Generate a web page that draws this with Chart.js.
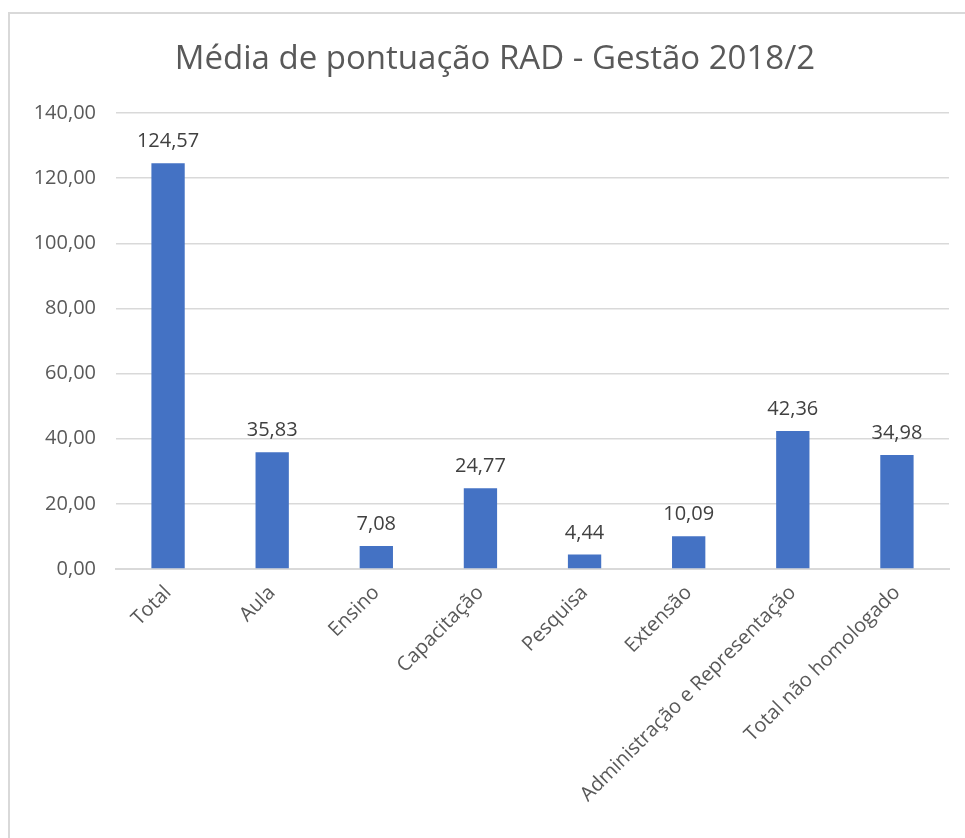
<!DOCTYPE html>
<html>
<head>
<meta charset="utf-8">
<script src="https://cdn.jsdelivr.net/npm/chart.js@4"></script>
<style>
  html, body { margin: 0; padding: 0; background: #fff; overflow: hidden; }
  #frame { position: absolute; left: 8px; top: 12px; width: 1000px; height: 900px; border: 2px solid #d9d9d9; box-sizing: border-box; }
  #wrap { position: absolute; left: 0; top: 0; width: 965px; height: 838px; }
</style>
</head>
<body>
<div id="frame"></div>
<div id="wrap"><canvas id="rad-chart"></canvas></div>
<script>
var categorias = ['Total', 'Aula', 'Ensino', 'Capacitação', 'Pesquisa', 'Extensão', 'Administração e Representação', 'Total não homologado'];
var medias = [124.57, 35.83, 7.08, 24.77, 4.44, 10.09, 42.36, 34.98];
var yMax = 140;
var yStep = 20;
var titulo = 'Média de pontuação RAD - Gestão 2018/2';

function fmt(v) {
	return Number(v).toFixed(2).replace('.', ',');
}

// titulo + rotulos em cima das barras
var rotulos = {
	id: 'rotulos',
	afterDatasetsDraw: function(chart) {
		var ctx = chart.ctx;
		var meta = chart.getDatasetMeta(0);
		ctx.save();
		ctx.font = '20px "Open Sans"';
		ctx.fillStyle = '#404040';
		ctx.textAlign = 'center';
		ctx.textBaseline = 'alphabetic';
		meta.data.forEach(function(bar, i) {
			ctx.fillText(fmt(medias[i]), bar.x, bar.y - 16);
		});
		ctx.font = '33px "Open Sans"';
		ctx.fillStyle = '#595959';
		ctx.textBaseline = 'middle';
		ctx.fillText(titulo, 495, 60);
		ctx.restore();
	}
};

var ctx = document.getElementById("rad-chart").getContext('2d');
var myChart = new Chart(ctx, {
	type: 'bar',
	data: {
		labels: categorias,
		datasets: [{
			label: 'Média',
			data: medias,
			backgroundColor: '#4472C4',
			borderWidth: 0,
			barPercentage: 0.32,
			categoryPercentage: 1
		}]
	},
	options: {
		responsive: true,
		maintainAspectRatio: false,
		animation: false,
		layout: { padding: { left: 0, right: 16, top: 113, bottom: 0 } },
		plugins: {
			legend: { display: false },
			tooltip: { enabled: false },
			title: { display: false }
		},
		scales: {
			x: {
				grid: { display: false },
				border: { color: '#d9d9d9', width: 2 },
				ticks: {
					color: '#595959',
					font: { family: '"Open Sans"', size: 20 },
					minRotation: 45,
					maxRotation: 45,
					autoSkip: false,
					padding: 4
				},
				afterFit: function(scale) { scale.height = 838 - 569; }
			},
			y: {
				min: 0,
				max: yMax,
				grid: { color: '#d9d9d9', lineWidth: 1.5, drawTicks: false },
				border: { display: false },
				ticks: {
					stepSize: yStep,
					color: '#595959',
					font: { family: '"Open Sans"', size: 20 },
					padding: 20,
					callback: function(v) { return fmt(v); }
				},
				afterFit: function(scale) { scale.width = 116; }
			}
		}
	},
	plugins: [rotulos]
});
</script>
</body>
</html>
